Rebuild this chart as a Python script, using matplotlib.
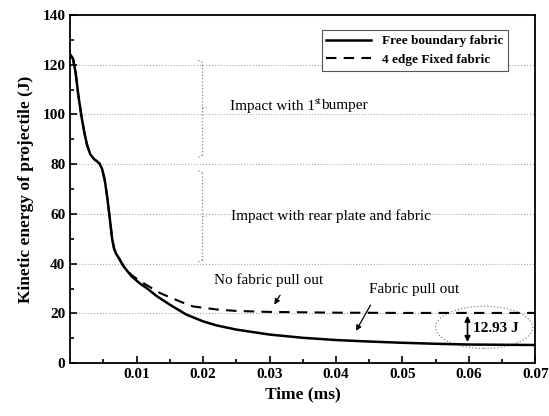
import matplotlib.pyplot as plt
import numpy as np
from matplotlib.patches import Ellipse

plt.rcParams['font.family'] = ['Liberation Serif', 'DejaVu Serif']

# free boundary fabric (solid)
t_free = [0, 0.0004, 0.0008, 0.0012, 0.0017, 0.0021, 0.0025, 0.003, 0.0036, 0.004,
          0.0044, 0.0048, 0.0052, 0.0056, 0.006, 0.0063, 0.0066, 0.0069, 0.0073, 0.008,
          0.0092, 0.0105, 0.0115, 0.013, 0.015, 0.0175, 0.02, 0.022, 0.025, 0.03,
          0.035, 0.04, 0.045, 0.05, 0.055, 0.06, 0.065, 0.07]
e_free = [124, 122.5, 117, 108, 99, 93, 88, 84, 82, 81.2,
          80.3, 78, 73.5, 66, 57, 50, 46, 44, 42.3, 39,
          35, 32, 30.2, 27, 23.5, 19.5, 16.8, 15.2, 13.5, 11.5,
          10.2, 9.3, 8.7, 8.2, 7.8, 7.5, 7.4, 7.3]

# 4 edge fixed fabric (dashed)
t_fixed = [0, 0.0004, 0.0008, 0.0012, 0.0017, 0.0021, 0.0025, 0.003, 0.0036, 0.004,
           0.0044, 0.0048, 0.0052, 0.0056, 0.006, 0.0063, 0.0066, 0.0069, 0.0073, 0.008,
           0.0092, 0.0105, 0.0135, 0.0165, 0.0185, 0.022, 0.025, 0.03, 0.04, 0.05,
           0.06, 0.07]
e_fixed = [124, 122.5, 117, 108, 99, 93, 88, 84, 82, 81.2,
           80.3, 78, 73.5, 66, 57, 50, 46, 44, 42.3, 39.2,
           35.5, 33, 28.2, 24.8, 22.8, 21.6, 21, 20.6, 20.3, 20.2,
           20.2, 20.2]

xticks = [0.01, 0.02, 0.03, 0.04, 0.05, 0.06, 0.07]
yticks = [0, 20, 40, 60, 80, 100, 120, 140]

fig = plt.figure(figsize=(5.49, 4.16), dpi=100)
ax = fig.add_axes([0.128, 0.127, 0.847, 0.837])

ax.plot(t_free, e_free, 'k-', lw=1.8, label='Free boundary fabric')
ax.plot(t_fixed, e_fixed, color='k', ls=(0, (5, 3.5)), lw=1.5, label='4 edge Fixed fabric')

ax.set_xlim(0, 0.07)
ax.set_ylim(0, 140)
ax.set_xticks(xticks)
ax.set_xticklabels(['0.01', '0.02', '0.03', '0.04', '0.05', '0.06', '0.07'])
ax.set_yticks(yticks)
ax.set_xticks(np.arange(0.005, 0.07, 0.01), minor=True)
ax.set_yticks(np.arange(10, 140, 20), minor=True)
ax.tick_params(which='both', direction='in', width=1.2)
ax.tick_params(which='major', length=5, labelsize=11)
ax.tick_params(which='minor', length=3)
for lab in ax.get_xticklabels() + ax.get_yticklabels():
    lab.set_fontweight('bold')
for s in ax.spines.values():
    s.set_linewidth(1.3)

ax.yaxis.grid(True, ls=':', color='#aaaaaa', lw=0.8)

ax.set_xlabel('Time (ms)', fontsize=12.5, fontweight='bold', labelpad=4)
ax.set_ylabel('Kinetic energy of projectile (J)', fontsize=12.5, fontweight='bold', labelpad=6)

leg = ax.legend(loc='upper right', bbox_to_anchor=(0.955, 0.975), fancybox=False,
                edgecolor='#555555', handlelength=3.4, prop={'weight': 'bold', 'size': 9.5},
                borderpad=0.35, labelspacing=0.5, framealpha=1)
leg.get_frame().set_linewidth(0.8)

# dotted braces
for lo, mid, hi in [(83.6, 103, 121), (41.6, 59, 76.5)]:
    ax.plot([0.0199, 0.0199], [lo, hi], ls=':', color='#888888', lw=0.9)
    ax.plot([0.0199, 0.0193], [hi, hi + 0.8], ls=':', color='#888888', lw=0.9)
    ax.plot([0.0199, 0.0193], [lo, lo - 0.8], ls=':', color='#888888', lw=0.9)
    ax.plot([0.0199, 0.0205], [mid, mid], ls=':', color='#888888', lw=0.9)

t1 = ax.text(0.024, 103, 'Impact with 1', fontsize=11, va='center')
t2 = ax.annotate('st', xy=(1, 0.55), xycoords=t1, fontsize=7, va='bottom', ha='left')
ax.annotate('bumper', xy=(1, 0), xycoords=t2, xytext=(0, -4.2), textcoords='offset points',
            fontsize=11, va='bottom', ha='left')
ax.text(0.0242, 59, 'Impact with rear plate and fabric', fontsize=11, va='center')
ax.text(0.0217, 33.5, 'No fabric pull out', fontsize=11, va='center')
ax.text(0.0449, 29.8, 'Fabric pull out', fontsize=11, va='center')

ax.annotate('', xy=(0.0305, 22.6), xytext=(0.0318, 28.3),
            arrowprops=dict(arrowstyle='-|>', color='k', lw=0.9, mutation_scale=8))
ax.annotate('', xy=(0.0428, 12.0), xytext=(0.0454, 24.3),
            arrowprops=dict(arrowstyle='-|>', color='k', lw=0.9, mutation_scale=8))

ax.annotate('', xy=(0.0598, 7.4), xytext=(0.0598, 20.2),
            arrowprops=dict(arrowstyle='<|-|>', color='k', lw=1.2, mutation_scale=8))
ax.text(0.0607, 14.0, '12.93 J', fontsize=11, fontweight='bold', va='center')

ax.add_patch(Ellipse((0.0623, 14.4), 0.0146, 17, fill=False, ls=':', color='#888888', lw=0.9,
                     clip_on=False))

fig.savefig('out.png', dpi=100)
